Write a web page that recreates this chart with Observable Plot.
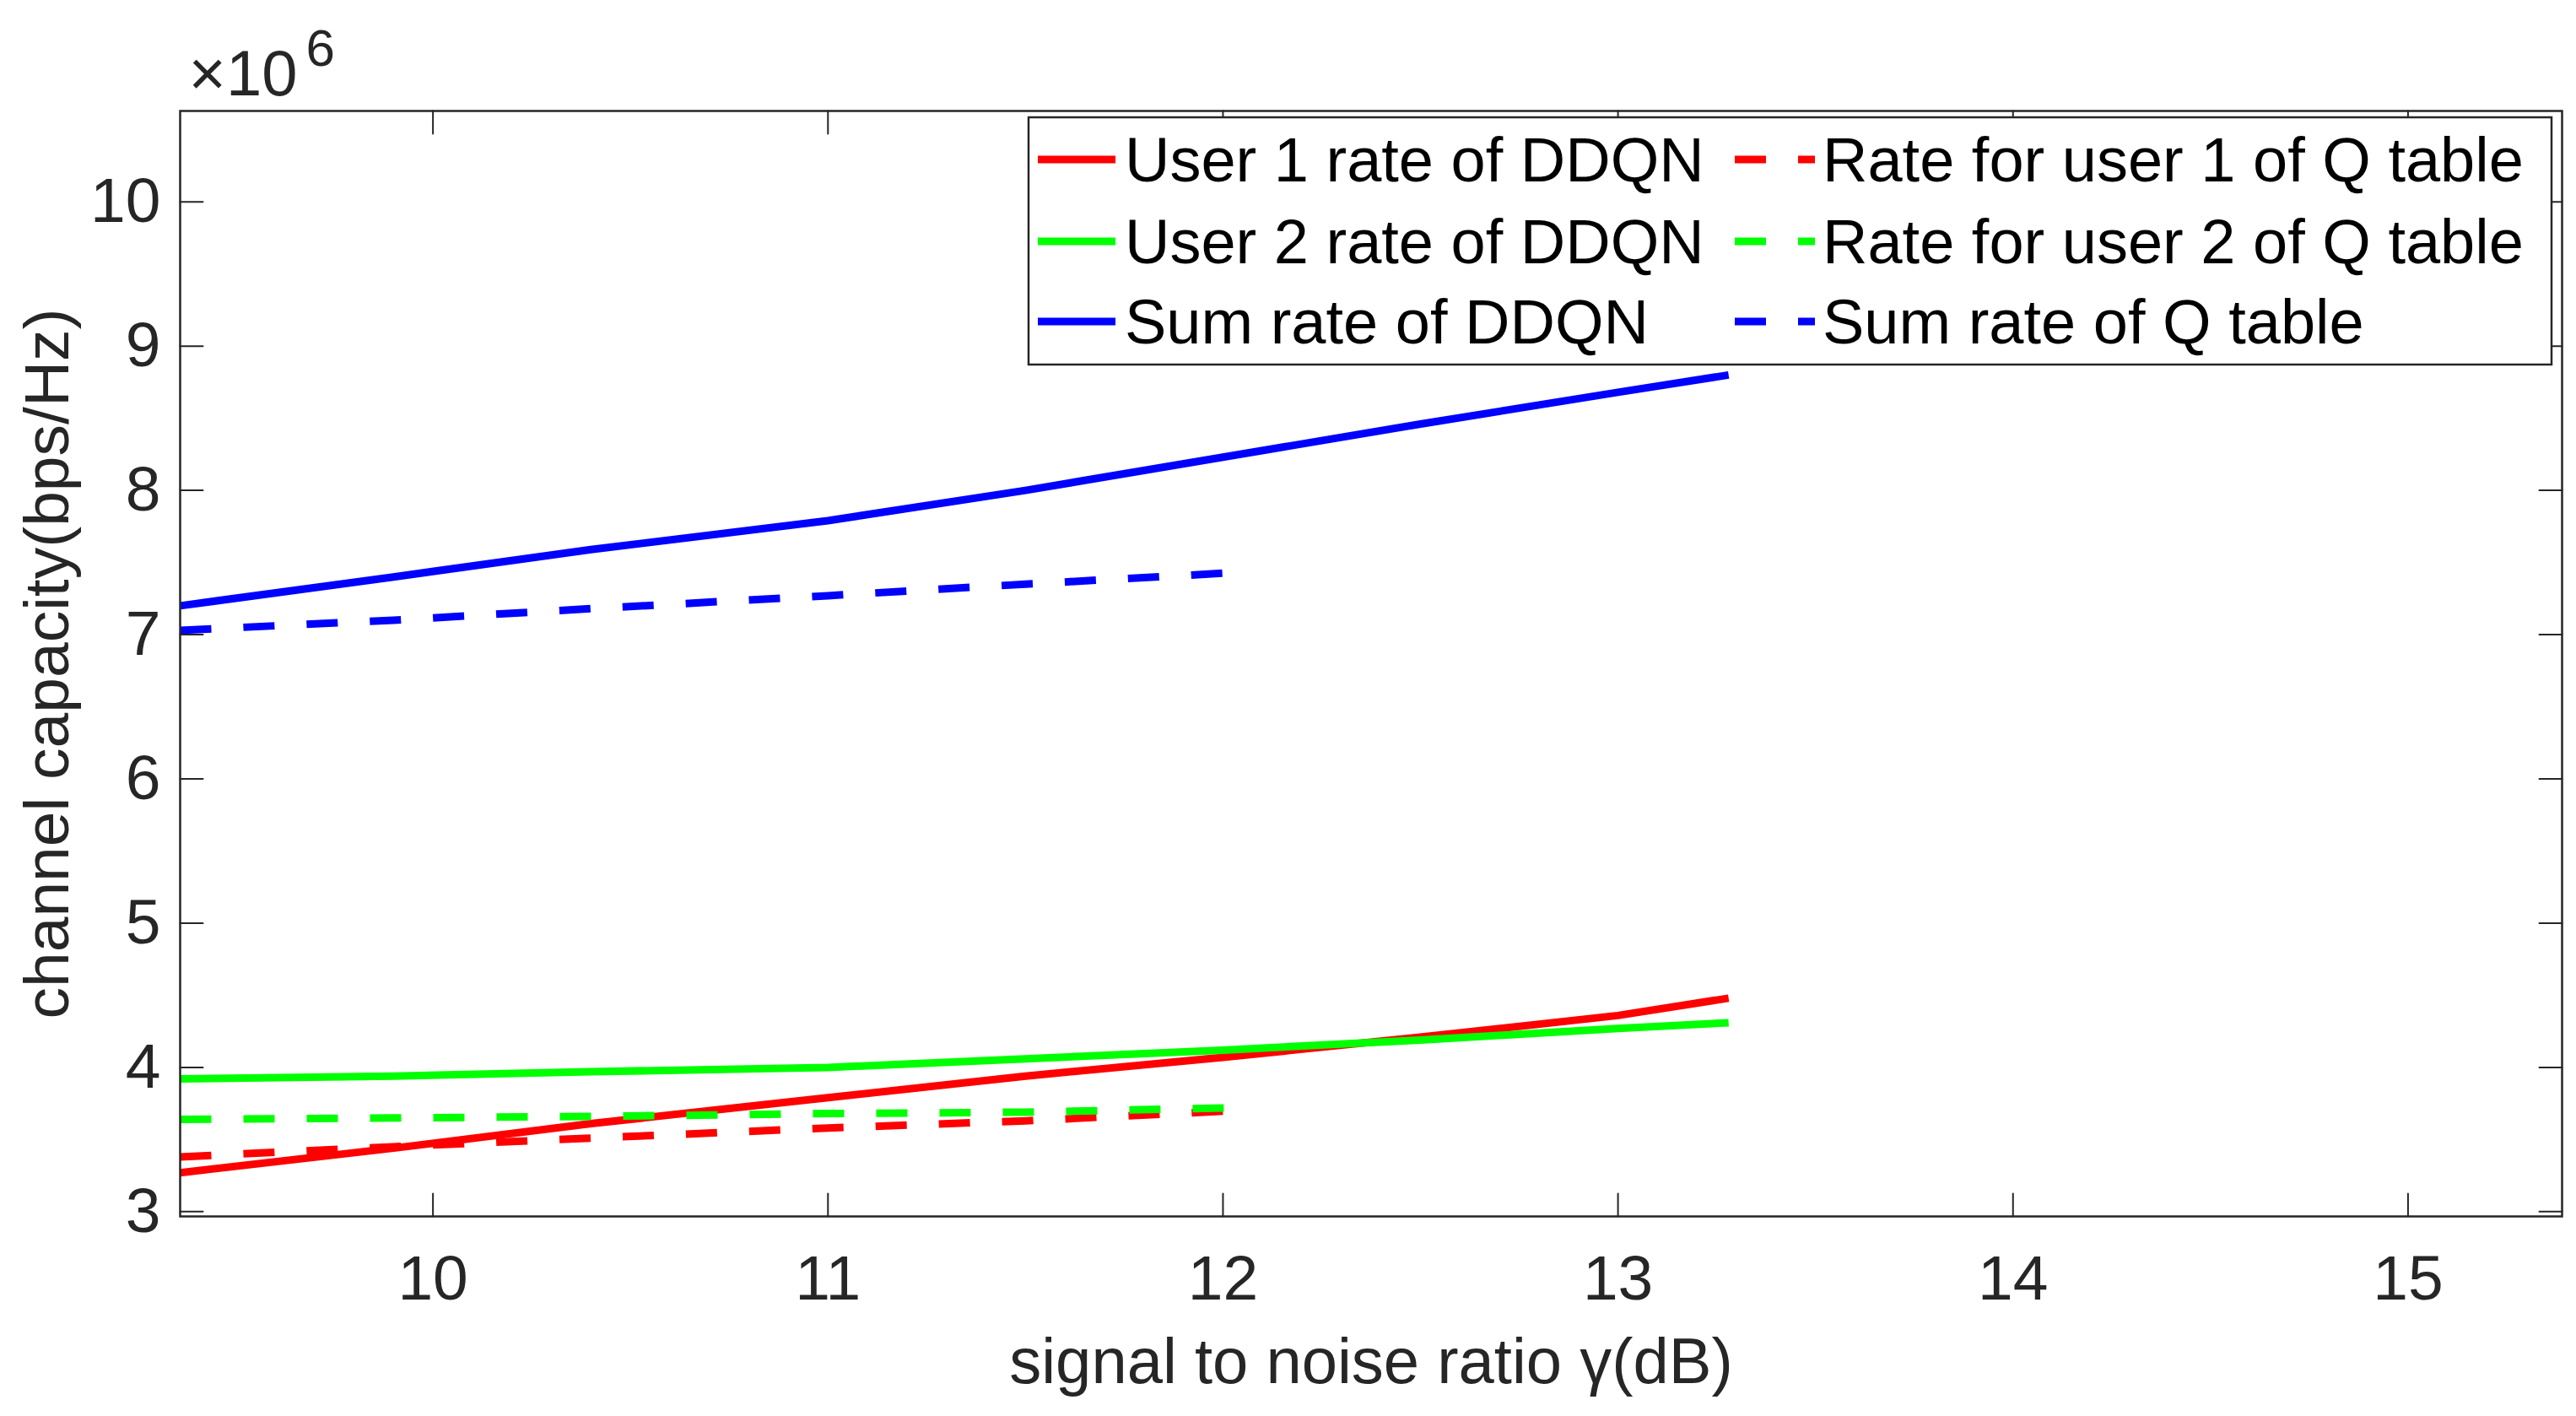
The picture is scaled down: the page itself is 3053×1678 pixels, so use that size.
<!DOCTYPE html>
<html>
<head>
<meta charset="utf-8">
<script src="https://cdn.jsdelivr.net/npm/d3@7"></script>
<script src="https://cdn.jsdelivr.net/npm/@observablehq/plot@0.6"></script>
<style>
  html, body { margin: 0; padding: 0; background: #ffffff; overflow: hidden; }
</style>
</head>
<body>
<div id="chart"></div>
<script>
// ---- data (rates in units of 10^6) ----
const snrDDQN   = [9.36, 9.9, 10.4, 11.0, 11.5, 12.0, 12.5, 13.0, 13.28];
const user1DDQN = [3.27, 3.44, 3.61, 3.79, 3.94, 4.07, 4.21, 4.36, 4.48];
const user2DDQN = [3.92, 3.94, 3.97, 4.00, 4.06, 4.12, 4.19, 4.27, 4.31];
const sumDDQN   = [7.20, 7.40, 7.59, 7.79, 8.00, 8.23, 8.46, 8.68, 8.80];

const snrQ   = [9.36, 9.9, 10.4, 11.0, 11.5, 12.03];
const user1Q = [3.38, 3.45, 3.51, 3.58, 3.63, 3.70];
const user2Q = [3.64, 3.65, 3.66, 3.68, 3.69, 3.72];
const sumQ   = [7.03, 7.10, 7.18, 7.27, 7.35, 7.43];

const xTicks = [10, 11, 12, 13, 14, 15];
const yTicks = [3, 4, 5, 6, 7, 8, 9, 10];
const xDomain = [9.36, 15.39];
const yDomain = [2.967, 10.63];

const ddqnNames = ["User 1 rate of DDQN", "User 2 rate of DDQN", "Sum rate of DDQN"];
const qNames = ["Rate for user 1 of Q table", "Rate for user 2 of Q table", "Sum rate of Q table"];
const seriesColors = ["#ff0000", "#00ff00", "#0000ff"];

const xLabel = "signal to noise ratio γ(dB)";
const yLabel = "channel capacity(bps/Hz)";
const exponentBase = "×10";
const exponentPower = "6";

// ---- build tables ----
const toRows = (xs, ys) => xs.map((x, i) => ({x, y: ys[i]}));
const ddqnSeries = [user1DDQN, user2DDQN, sumDDQN].map(v => toRows(snrDDQN, v));
const qSeries = [user1Q, user2Q, sumQ].map(v => toRows(snrQ, v));

const axisColor = "#262626";
const dash = "37,38";
const lw = 9;
const font = "'Liberation Sans', Arial, Helvetica, sans-serif";

const tickShape = {draw(context, l) { context.moveTo(0, 0); context.lineTo(0, -l); }};
const tickOpts = {length: 27, anchor: "start", shape: tickShape, stroke: axisColor, strokeWidth: 2};

const marks = [];
ddqnSeries.forEach((d, i) => marks.push(Plot.line(d, {x: "x", y: "y", stroke: seriesColors[i], strokeWidth: lw, strokeLinecap: "butt"})));
qSeries.forEach((d, i) => marks.push(Plot.line(d, {x: "x", y: "y", stroke: seriesColors[i], strokeWidth: lw, strokeDasharray: dash, strokeLinecap: "butt"})));

marks.push(
  Plot.frame({stroke: axisColor, strokeWidth: 2.5}),
  Plot.vector(xTicks, {x: d => d, frameAnchor: "bottom", rotate: 0, ...tickOpts}),
  Plot.vector(xTicks, {x: d => d, frameAnchor: "top", rotate: 180, ...tickOpts}),
  Plot.vector(yTicks, {y: d => d, frameAnchor: "left", rotate: 90, ...tickOpts}),
  Plot.vector(yTicks, {y: d => d, frameAnchor: "right", rotate: -90, ...tickOpts}),
  Plot.axisX({ticks: xTicks, tickFormat: d => String(d), tickSize: 0, tickPadding: 45, fontSize: 75, label: null, fill: axisColor}),
  Plot.axisY({ticks: yTicks, tickFormat: d => String(d), tickSize: 0, tickPadding: 23, fontSize: 75, label: null, fill: axisColor}),
  Plot.text([xLabel], {frameAnchor: "bottom", textAnchor: "middle", dy: 197, lineAnchor: "bottom", fontSize: 76, fill: axisColor}),
  Plot.text([yLabel], {frameAnchor: "left", textAnchor: "middle", rotate: -90, dx: -133, lineAnchor: "bottom", fontSize: 75, fill: axisColor}),
  Plot.text([exponentBase], {frameAnchor: "top-left", textAnchor: "start", dx: 10, dy: -19, lineAnchor: "bottom", fontSize: 76, fill: axisColor}),
  Plot.text([exponentPower], {frameAnchor: "top-left", textAnchor: "start", dx: 149, dy: -54, lineAnchor: "bottom", fontSize: 62, fill: axisColor})
);

const svg = Plot.plot({
  width: 3053,
  height: 1678,
  marginLeft: 213,
  marginRight: 17,
  marginTop: 131,
  marginBottom: 237,
  style: {fontFamily: font, background: "#ffffff", color: axisColor, overflow: "visible"},
  x: {domain: xDomain},
  y: {domain: yDomain},
  marks
});

// ---- legend (MATLAB-style box inside the axes) ----
const lg = d3.select(svg).append("g")
  .attr("font-family", font).attr("font-size", 74).attr("text-anchor", "start");
const box = {x: 1219, y: 139, w: 1805, h: 293};
lg.append("rect").attr("x", box.x).attr("y", box.y).attr("width", box.w).attr("height", box.h)
  .attr("fill", "#ffffff").attr("stroke", axisColor).attr("stroke-width", 2.5);
const rowY = [189, 286, 381];
const cols = [
  {names: ddqnNames, x1: 1230, x2: 1322, tx: 1333, dash: null},
  {names: qNames, x1: 2056, x2: 2151, tx: 2160, dash: dash}
];
cols.forEach(c => {
  c.names.forEach((name, i) => {
    const line = lg.append("line").attr("x1", c.x1).attr("x2", c.x2).attr("y1", rowY[i]).attr("y2", rowY[i])
      .attr("stroke", seriesColors[i]).attr("stroke-width", lw);
    if (c.dash) line.attr("stroke-dasharray", c.dash);
    lg.append("text").attr("x", c.tx).attr("y", rowY[i] + 26).attr("fill", "#000000").text(name);
  });
});

document.getElementById("chart").appendChild(svg);
</script>
</body>
</html>
